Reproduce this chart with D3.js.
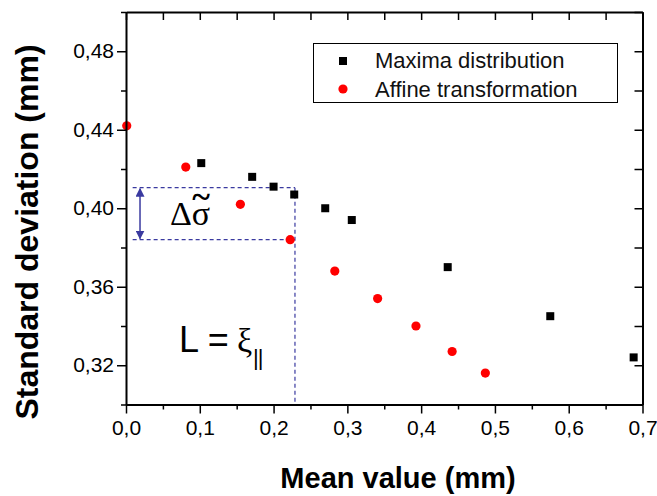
<!DOCTYPE html>
<meta charset="utf-8">
<style>
body { margin: 0; background: #fff; }
svg text { font-family: "Liberation Sans", Arial, sans-serif; fill: #000; }
.axis path { stroke: #000; stroke-width: 2; }
.axis line { stroke: #000; stroke-width: 1.5; }
.dash { stroke: #3a3aa0; stroke-width: 1.2; stroke-dasharray: 4,3; fill: none; }
</style>
<body>
<script src="https://d3js.org/d3.v7.min.js"></script>
<script>
// data
var maximaX = [0.102, 0.171, 0.200, 0.228, 0.270, 0.306, 0.436, 0.575, 0.688];
var maximaY = [0.423, 0.416, 0.411, 0.407, 0.400, 0.394, 0.370, 0.345, 0.324];
var affineX = [0.001, 0.081, 0.155, 0.2225, 0.283, 0.341, 0.393, 0.442, 0.487];
var affineY = [0.442, 0.421, 0.402, 0.384, 0.368, 0.354, 0.340, 0.327, 0.316];

var xTicks = [0, 0.1, 0.2, 0.3, 0.4, 0.5, 0.6, 0.7];
var xLabels = ["0,0", "0,1", "0,2", "0,3", "0,4", "0,5", "0,6", "0,7"];
var xMinor = [0.05, 0.15, 0.25, 0.35, 0.45, 0.55, 0.65];
var yTicks = [0.32, 0.36, 0.40, 0.44, 0.48];
var yLabels = ["0,32", "0,36", "0,40", "0,44", "0,48"];
var yMinor = [0.30, 0.34, 0.38, 0.42, 0.46, 0.50];

// delta sigma box: x from/to, y bottom/top
var boxX = [0.009, 0.229];
var boxY = [0.384, 0.4105];
var arrowX = 0.019;

var width = 657, height = 496;
var pl = 126, pr = 642.5, pt = 12, pb = 404.5;

var x = d3.scaleLinear().domain([0, 0.7]).range([pl, pr]);
var y = d3.scaleLinear().domain([0.30, 0.50]).range([pb, pt]);

var svg = d3.select("body").append("svg")
    .attr("width", width)
    .attr("height", height);

var defs = svg.append("defs");
defs.append("marker")
    .attr("id", "arr")
    .attr("viewBox", "0 0 10 10")
    .attr("refX", 9).attr("refY", 5)
    .attr("markerWidth", 9).attr("markerHeight", 9)
    .attr("markerUnits", "userSpaceOnUse")
    .attr("orient", "auto-start-reverse")
  .append("path")
    .attr("d", "M0,0 L10,5 L0,10 z")
    .attr("fill", "#3a3aa0");

// dashed guide lines
svg.append("line").attr("class", "dash")
    .attr("x1", x(boxX[0])).attr("x2", x(boxX[1]))
    .attr("y1", y(boxY[1])).attr("y2", y(boxY[1]));
svg.append("line").attr("class", "dash")
    .attr("x1", x(boxX[0])).attr("x2", x(boxX[1]))
    .attr("y1", y(boxY[0])).attr("y2", y(boxY[0]));
svg.append("line").attr("class", "dash")
    .attr("x1", x(boxX[1])).attr("x2", x(boxX[1]))
    .attr("y1", y(boxY[1])).attr("y2", y(0.30));

// double arrow
svg.append("line")
    .attr("x1", x(arrowX)).attr("x2", x(arrowX))
    .attr("y1", y(boxY[1]) + 1).attr("y2", y(boxY[0]) - 1)
    .attr("stroke", "#3a3aa0").attr("stroke-width", 1.5)
    .attr("marker-start", "url(#arr)")
    .attr("marker-end", "url(#arr)");

// points
var maxima = maximaX.map(function(d, i) { return {x: d, y: maximaY[i]}; });
var affine = affineX.map(function(d, i) { return {x: d, y: affineY[i]}; });

svg.selectAll(".sq").data(maxima).enter().append("rect")
    .attr("x", function(d) { return x(d.x) - 4; })
    .attr("y", function(d) { return y(d.y) - 4; })
    .attr("width", 8).attr("height", 8)
    .attr("fill", "#000");

svg.selectAll(".dot").data(affine).enter().append("circle")
    .attr("cx", function(d) { return x(d.x); })
    .attr("cy", function(d) { return y(d.y); })
    .attr("r", 4.6)
    .attr("fill", "#ff0000");

// axes
var gx = svg.append("g").attr("class", "axis")
    .attr("transform", "translate(0," + pb + ")")
    .call(d3.axisBottom(x).tickValues(xTicks).tickSize(9).tickSizeOuter(0)
      .tickPadding(7).tickFormat(function(d, i) { return xLabels[i]; }));
svg.append("g").attr("class", "axis")
    .attr("transform", "translate(0," + pb + ")")
    .call(d3.axisBottom(x).tickValues(xMinor).tickSize(5).tickSizeOuter(0).tickFormat(""))
    .select("path").remove();

var gy = svg.append("g").attr("class", "axis")
    .attr("transform", "translate(" + pl + ",0)")
    .call(d3.axisLeft(y).tickValues(yTicks).tickSize(9).tickSizeOuter(0)
      .tickPadding(3).tickFormat(function(d, i) { return yLabels[i]; }));
svg.append("g").attr("class", "axis")
    .attr("transform", "translate(" + pl + ",0)")
    .call(d3.axisLeft(y).tickValues(yMinor).tickSize(5).tickSizeOuter(0).tickFormat(""))
    .select("path").remove();

gx.selectAll("text").style("font-size", "21px").style("font-family", "'Liberation Sans', Arial, sans-serif");
gy.selectAll("text").style("font-size", "21px").style("font-family", "'Liberation Sans', Arial, sans-serif");

// mirror axes, ticks inward
svg.append("g").attr("class", "axis")
    .attr("transform", "translate(0," + pt + ")")
    .call(d3.axisBottom(x).tickValues(xTicks.concat(xMinor)).tickSize(8).tickSizeOuter(0).tickFormat(""));
svg.append("g").attr("class", "axis")
    .attr("transform", "translate(" + pr + ",0)")
    .call(d3.axisLeft(y).tickValues(yTicks.concat(yMinor)).tickSize(8).tickSizeOuter(0).tickFormat(""));

// axis titles
svg.append("text")
    .attr("x", 398).attr("y", 488)
    .attr("text-anchor", "middle")
    .style("font-size", "29px").style("font-weight", "bold")
    .text("Mean value (mm)");
svg.append("text")
    .attr("transform", "translate(38,232) rotate(-90)")
    .attr("text-anchor", "middle")
    .style("font-size", "32px").style("font-weight", "bold")
    .text("Standard deviation (mm)");

// legend
svg.append("rect")
    .attr("x", 313.5).attr("y", 43.5).attr("width", 304).attr("height", 59)
    .attr("fill", "#fff").attr("stroke", "#000").attr("stroke-width", 1);
svg.append("rect").attr("x", 339).attr("y", 57).attr("width", 8).attr("height", 8).attr("fill", "#000");
svg.append("circle").attr("cx", 343).attr("cy", 89).attr("r", 4.6).attr("fill", "#ff0000");
svg.append("text").attr("x", 375).attr("y", 68)
    .style("font-size", "22px").style("fill", "#111").text("Maxima distribution");
svg.append("text").attr("x", 375).attr("y", 96.5)
    .style("font-size", "22px").style("fill", "#111").text("Affine transformation");

// annotations
svg.append("text").attr("x", 170).attr("y", 225)
    .style("font-family", "'Liberation Serif', 'Times New Roman', serif")
    .style("font-size", "34px").text("\u0394\u03c3");
svg.append("text").attr("x", 201).attr("y", 208)
    .attr("text-anchor", "middle")
    .style("font-family", "'Liberation Serif', 'Times New Roman', serif")
    .style("font-size", "34px").style("font-weight", "bold").text("~");

svg.append("text").attr("x", 179).attr("y", 352)
    .style("font-size", "36px").text("L =");
svg.append("text").attr("x", 237).attr("y", 352)
    .style("font-family", "'Liberation Serif', 'Times New Roman', serif")
    .style("font-size", "34px").text("\u03be");
svg.append("text").attr("x", 253).attr("y", 365)
    .style("font-size", "22px").style("letter-spacing", "-1px").text("||");
</script>
</body>
